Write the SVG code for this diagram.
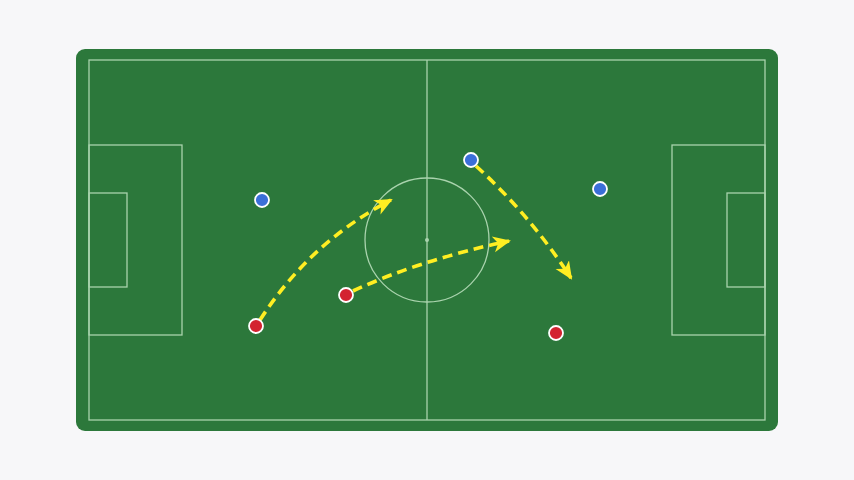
<svg xmlns="http://www.w3.org/2000/svg" width="854" height="480" viewBox="0 0 854 480">
<defs>
<style>
.line{fill:none;stroke:#a9d3ad;stroke-width:1.3}
.run{fill:none;stroke:#ffee22;stroke-width:3.6;stroke-dasharray:10 6;stroke-linecap:butt}
.blue{fill:#3b6fd8;stroke:#ffffff;stroke-width:1.8}
.red{fill:#d32330;stroke:#ffffff;stroke-width:1.8}
</style>
<marker id="ah" markerUnits="userSpaceOnUse" markerWidth="20" markerHeight="20" viewBox="0 0 20 20" refX="16" refY="10" orient="auto">
<path d="M0,2 L18,10 L0,18 L5,10 Z" fill="#ffee22"/>
</marker>
</defs>
<rect width="854" height="480" fill="#f7f7f9"/>
<g id="pitch">
<rect x="76" y="49" width="702" height="382" rx="9" fill="#2c783b"/>
<rect class="line" x="89" y="60" width="676" height="360"/>
<line class="line" x1="427" y1="60" x2="427" y2="420"/>
<circle class="line" cx="427" cy="240" r="62"/>
<circle cx="427" cy="240" r="2" fill="#a9d3ad"/>
<rect class="line" x="89" y="145" width="93" height="190"/>
<rect class="line" x="89" y="193" width="38" height="94"/>
<rect class="line" x="672" y="145" width="93" height="190"/>
<rect class="line" x="727" y="193" width="38" height="94"/>
</g>
<g id="connectors">
<path class="run" d="M260 320 Q310 242 391 200" marker-end="url(#ah)"/>
<path class="run" d="M353 291 Q420 260 509 241" marker-end="url(#ah)"/>
<path class="run" d="M476 166 Q530 215 571 278" marker-end="url(#ah)"/>
</g>
<g id="blue1"><circle class="blue" cx="262" cy="200" r="7"/></g>
<g id="blue2"><circle class="blue" cx="471" cy="160" r="7"/></g>
<g id="blue3"><circle class="blue" cx="600" cy="189" r="7"/></g>
<g id="red1"><circle class="red" cx="256" cy="326" r="7"/></g>
<g id="red2"><circle class="red" cx="346" cy="295" r="7"/></g>
<g id="red3"><circle class="red" cx="556" cy="333" r="7"/></g>
</svg>
